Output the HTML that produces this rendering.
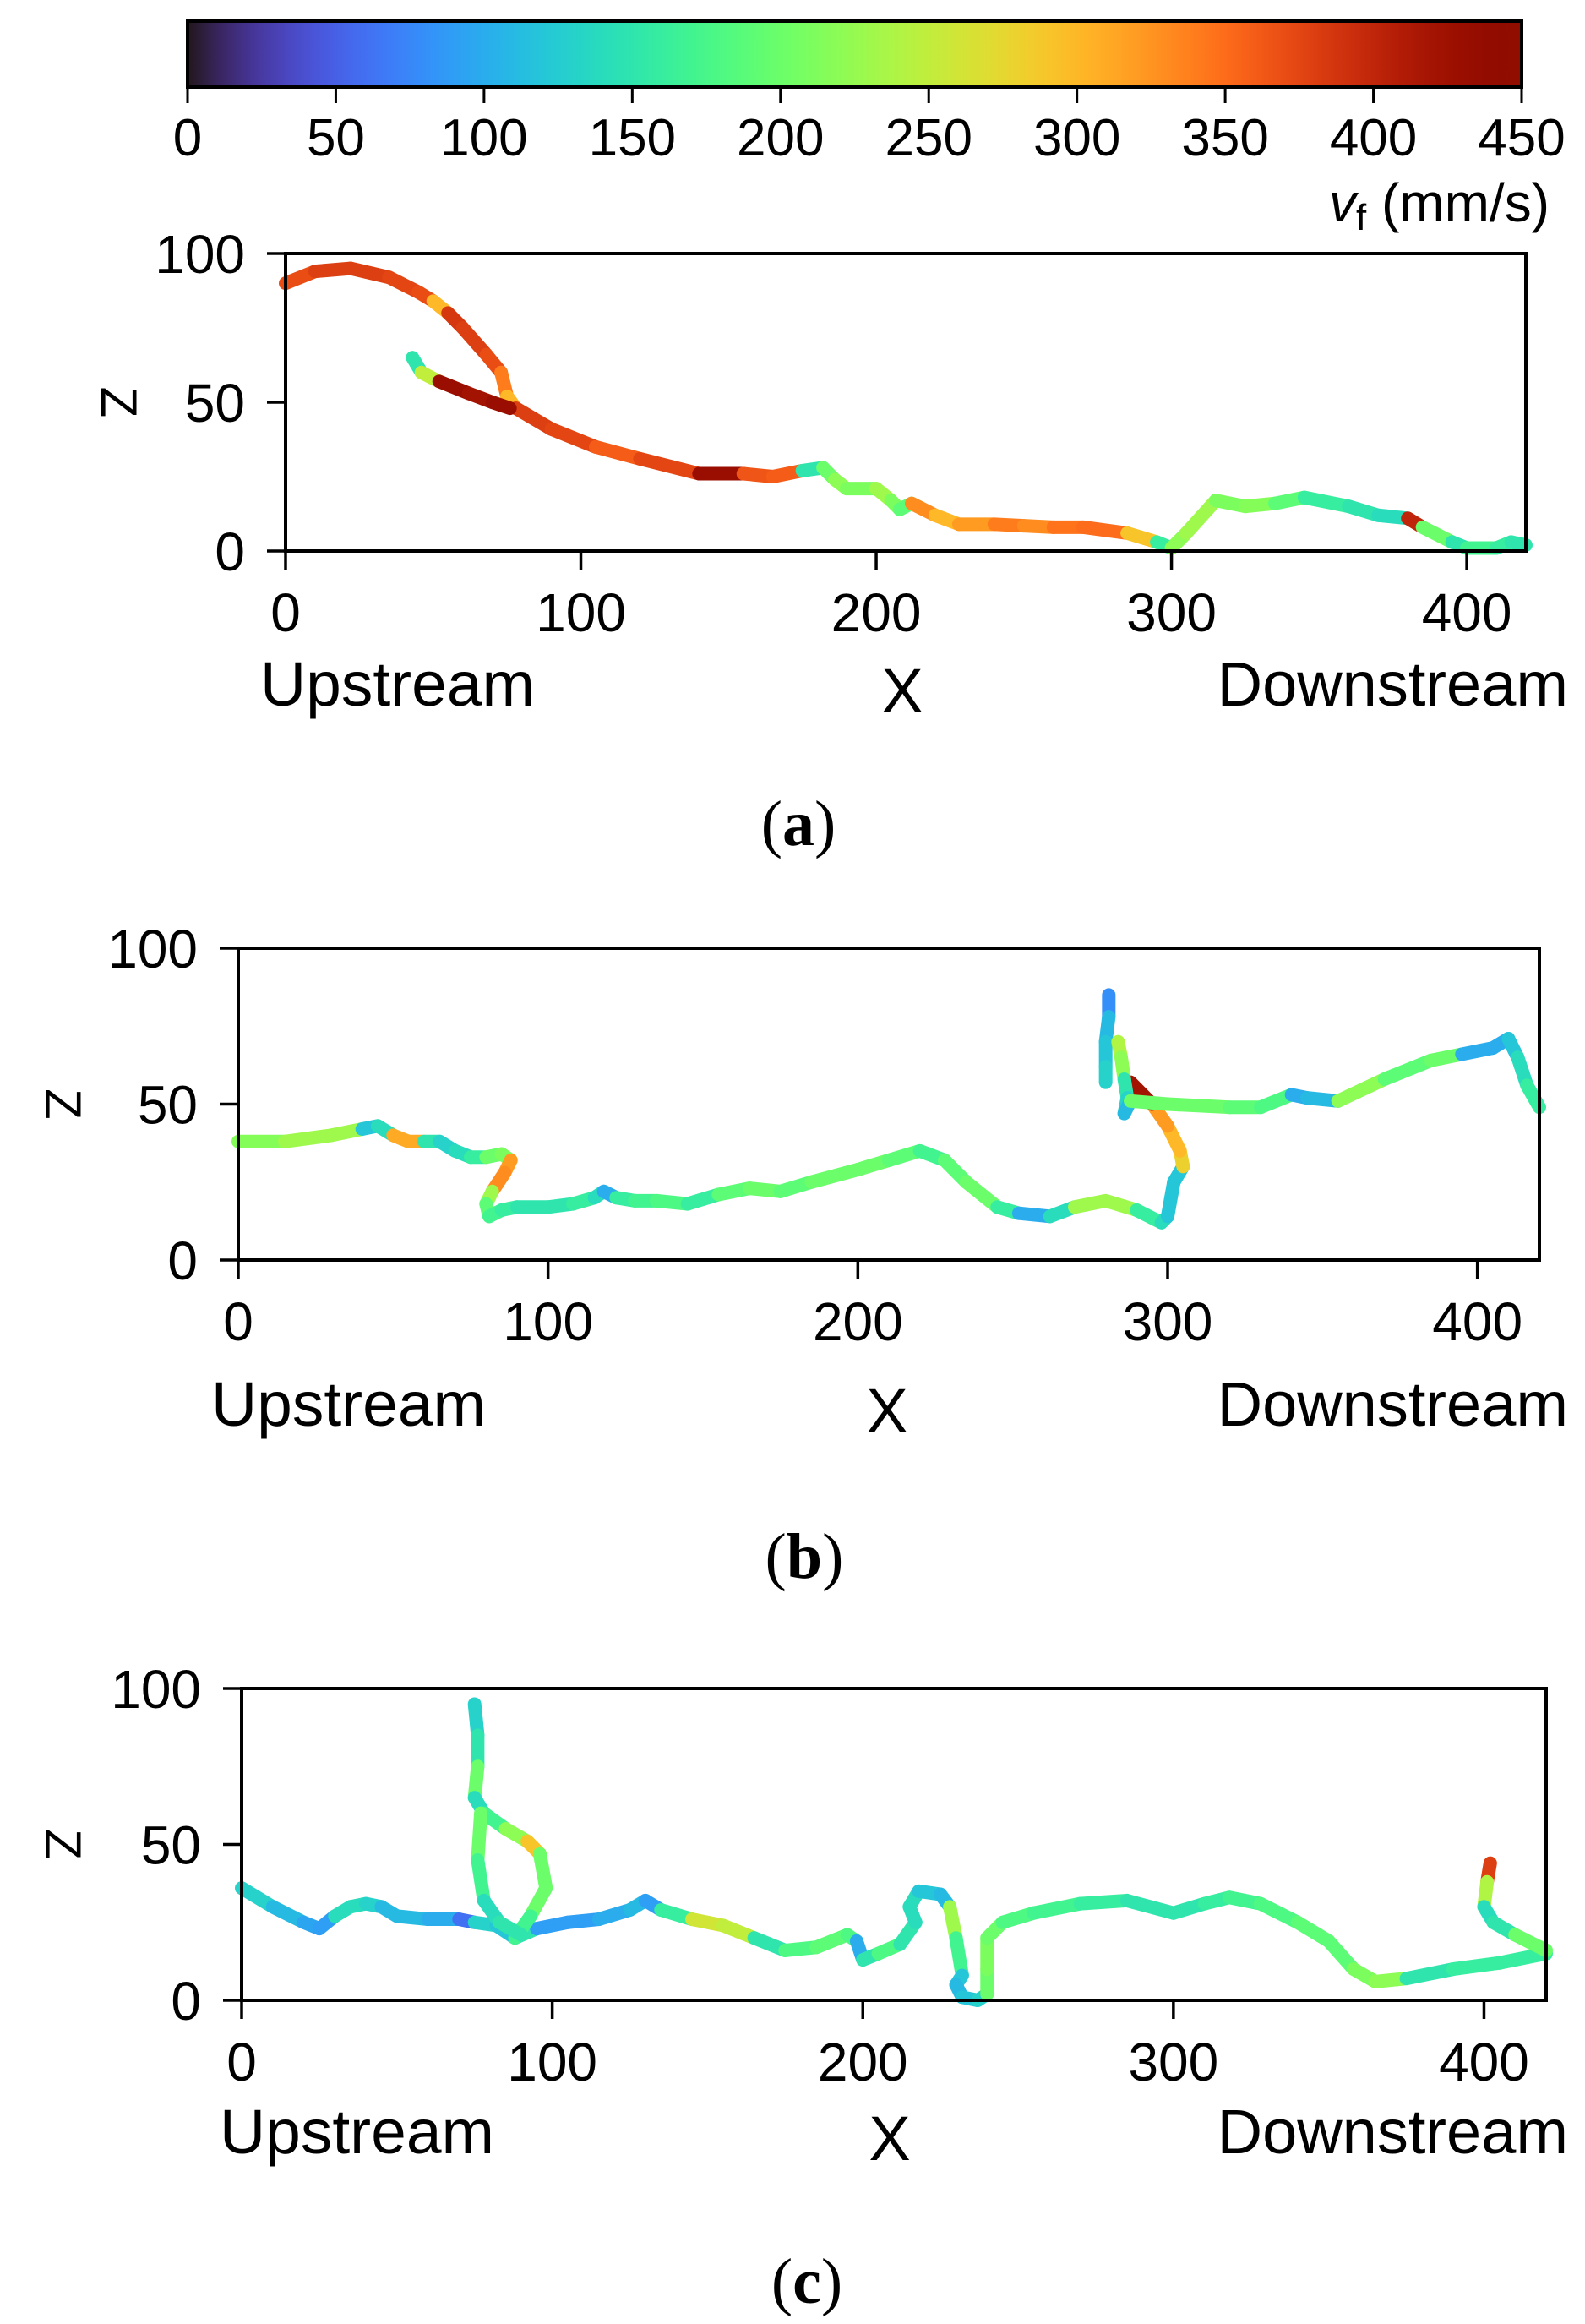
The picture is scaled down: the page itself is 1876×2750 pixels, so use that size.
<!DOCTYPE html>
<html><head><meta charset="utf-8"><style>
html,body{margin:0;padding:0;background:#fff;}
svg{display:block;font-family:"Liberation Sans",sans-serif;}
</style></head><body>
<svg id="fig" width="1876" height="2750" viewBox="0 0 1876 2750" xmlns="http://www.w3.org/2000/svg">
<defs><linearGradient id="turbo" x1="0" x2="1" y1="0" y2="0"></linearGradient></defs>
<g id="cbar"></g>
<g id="pa"></g>
<g id="pb"></g>
<g id="pc"></g>
</svg>
<script>
const NS="http://www.w3.org/2000/svg";
const vMax=450;
const cbarTicks=[0,50,100,150,200,250,300,350,400,450];
const xTicks=[0,100,200,300,400];
const zTicks=[0,50,100];
// Panel (a)
const aX1=[0,10,22,35,45,50,55,60,68,73,75,78,90,105,120,140,155,165,175,182,186,190,200,205,208,212,220,228,240,250,260,270,285,295,300,305,315,325,335,345,360,370,380,385,395,400,410,415,420];
const aZ1=[90,94,95,92,87,84,80,75,66,60,52,48,41,35,31,26,26,25,27,28,24,21,21,17,14,16,12,9,9,8.5,8,8,6,3,1,6,17,15,16,18,15,12,11,8,3,1,1,3,2];
const aV1=[370,380,380,375,370,300,385,380,370,340,300,380,375,360,375,430,365,360,150,200,220,210,230,210,190,330,300,320,340,330,345,350,290,160,220,230,210,215,190,160,150,140,400,200,150,170,160,150,150];
const aX2=[43,46,52,62,70,76];
const aZ2=[65,60,57,53,50,48];
const aV2=[150,250,430,420,430,400];
// Panel (b)
const bX1=[0,15,30,40,45,50,55,60,65,70,75,80,85,88,86,82,80,81,85,90,100,108,115,118,122,128,135,145,155,165,175,185,200,210,220,228,235,245,252,262,270,280,290,298,300,302,305,304,300,295,288];
const bZ1=[38,38,40,42,43,40,38,38,38,35,33,33,34,32,28,22,18,14,16,17,17,18,20,22,20,19,19,18,21,23,22,25,29,32,35,32,25,17,15,14,17,19,16,12,14,25,30,35,43,50,57];
const bV1=[215,230,230,120,140,310,310,150,130,140,160,200,210,320,330,230,190,170,160,150,150,160,140,100,160,170,180,160,190,200,190,200,200,190,170,190,200,160,100,140,230,230,160,140,120,120,280,300,320,420,420];
const bX2=[281,281,280,280,280];
const bZ2=[85,78,70,62,57];
const bV2=[80,110,120,130,90];
const bX3=[284,285,286,287,286,288,300,320,330,340,345,355,370,385,395,405,410,413,416,420];
const bZ3=[70,65,58,52,47,51,50,49,49,53,52,51,58,64,66,68,71,65,56,49];
const bV3=[240,220,150,130,110,200,200,190,180,100,110,220,190,200,100,100,120,140,160,200];
// Panel (c)
const cX1=[0,10,20,25,30,35,40,45,50,60,70,75,82,88,95,105,115,125,130,135,145,155,165,175,185,195,198,200,205,212,217,215,218,225,228,230,232,230,232,237,240,240,240,245,255,270,285,300,310,318,328,340,350,358,365,375,390,405,420];
const cZ1=[36,30,25,23,27,30,31,30,27,26,26,25,24,20,23,25,26,29,32,29,26,24,20,16,17,21,19,13,15,18,25,30,35,34,30,20,8,5,1,0,2,10,20,25,28,31,32,28,31,33,31,25,19,10,6,7,10,12,15];
const cV1=[130,110,95,90,140,140,130,110,110,100,60,130,120,150,90,90,100,110,90,160,260,250,150,180,190,180,100,150,180,150,140,140,120,110,230,170,120,110,120,130,200,210,200,180,170,160,150,150,160,170,180,190,190,210,220,150,160,160,100];
const cX2=[75,76,76,75,78,85,92,96,98,93,88];
const cZ2=[95,85,75,65,60,55,51,47,36,27,20];
const cV2=[130,150,200,140,170,220,290,200,200,170,160];
const cX3=[77,76,78,83,90];
const cZ3=[60,45,32,25,21];
const cV3=[200,170,140,150,150];
const cX4=[402,401,400,403,410,420];
const cZ4=[44,38,30,25,21,16];
const cV4=[380,240,140,150,200,200];

function turbo(t){t=Math.max(0,Math.min(1,t));
 const r=0.13572138+t*(4.61539260+t*(-42.66032258+t*(132.13108234+t*(-152.94239396+t*59.28637943))));
 const g=0.09140261+t*(2.19418839+t*(4.84296658+t*(-14.18503333+t*(4.27729857+t*2.82956604))));
 const b=0.10667330+t*(12.64194608+t*(-60.58204836+t*(110.36276771+t*(-89.90310912+t*27.34824973))));
 const c=v=>Math.round(255*Math.max(0,Math.min(1,v)));
 return `rgb(${c(r)},${c(g)},${c(b)})`;}
function mk(tag,attrs,parent){const e=document.createElementNS(NS,tag);for(const k in attrs)e.setAttribute(k,attrs[k]);parent.appendChild(e);return e;}

// colorbar
const grad=document.getElementById('turbo');
for(let i=0;i<=40;i++){mk('stop',{offset:(i/40),'stop-color':turbo(i/40)},grad);}
const cb=document.getElementById('cbar');
const cbL=222,cbR=1801,cbT=25,cbB=103;
const cbRect=mk('rect',{x:cbL,y:cbT,width:cbR-cbL,height:cbB-cbT,fill:'url(#turbo)',stroke:'#000','stroke-width':4},cb);


const cbx=v=>cbL+(cbR-cbL)*v/vMax;
cbarTicks.forEach(v=>{
 const l=mk('line',{x1:cbx(v),x2:cbx(v),y1:cbB,y2:cbB+19,stroke:'#000','stroke-width':3},cb);
 
 
 const t=mk('text',{x:cbx(v),y:184,'font-size':62,'text-anchor':'middle'},cb);
 t.textContent=v;
 
 
});
const vt=mk('text',{x:1834,y:262,'font-size':64,'text-anchor':'end'},cb);
vt.innerHTML='<tspan font-style="italic">v</tspan><tspan font-size="44" dy="10">f</tspan><tspan dy="-10"> (mm/s)</tspan>';



function panel(gid,box,series,labels){
 const g=document.getElementById(gid);
 const {L,R,T,B}=box;
 const sx=x=>L+(R-L)*x/420, sz=z=>B-(B-T)*z/100;
 series.forEach((s,si)=>{
  const sg=mk('g',{},g);
  
  
  for(let i=0;i<s[0].length-1;i++){
   const seg=mk('line',{x1:sx(s[0][i]),y1:sz(s[1][i]),x2:sx(s[0][i+1]),y2:sz(s[1][i+1]),stroke:turbo(s[2][i]/vMax),'stroke-width':16,'stroke-linecap':'round'},sg);
   
   
  }
 });
 const fr=mk('rect',{x:L,y:T,width:R-L,height:B-T,fill:'none',stroke:'#000','stroke-width':4},g);
 
 
 xTicks.forEach(v=>{
  const l=mk('line',{x1:sx(v),x2:sx(v),y1:B,y2:B+22,stroke:'#000','stroke-width':3.5},g);
  
  
  const t=mk('text',{x:sx(v),y:B+95,'font-size':64,'text-anchor':'middle'},g);
  t.textContent=v;
  
  
 });
 zTicks.forEach(v=>{
  const l=mk('line',{x1:L-22,x2:L,y1:sz(v),y2:sz(v),stroke:'#000','stroke-width':3.5},g);
  
  
  const t=mk('text',{x:L-48,y:sz(v)+23,'font-size':64,'text-anchor':'end'},g);
  t.textContent=v;
  
  
 });
 const zl=mk('text',{x:0,y:0,'font-size':60,'text-anchor':'middle',transform:`translate(${labels.zx+20},${sz(50)}) rotate(90)`},g);
 zl.textContent='Z';
 
 
 const up=mk('text',{x:labels.upx,y:labels.by,'font-size':74,textLength:325,lengthAdjust:'spacingAndGlyphs'},g);
 up.textContent='Upstream';
 
 
 const xl=mk('text',{x:labels.xx,y:labels.by+8,'font-size':74,'text-anchor':'middle'},g);
 xl.textContent='X';
 
 
 const dn=mk('text',{x:1856,y:labels.by,'font-size':74,'text-anchor':'end'},g);
 dn.textContent='Downstream';
 
 
 const cap=mk('text',{x:labels.capx,y:labels.capy,'font-size':76,'text-anchor':'middle','font-family':'Liberation Serif, serif'},g);
 cap.innerHTML='(<tspan font-weight="bold">'+labels.cap+'</tspan>)';
 
 
}
panel('pa',{L:338,R:1806,T:300,B:652},[[aX1,aZ1,aV1],[aX2,aZ2,aV2]],{zx:100,upx:308,xx:1068,by:835,capx:945,capy:1000,cap:'a'});
panel('pb',{L:282,R:1822,T:1122,B:1491},[[bX1,bZ1,bV1],[bX2,bZ2,bV2],[bX3,bZ3,bV3]],{zx:34,upx:250,xx:1050,by:1687,capx:952,capy:1867,cap:'b'});
panel('pc',{L:286,R:1830,T:1998,B:2367},[[cX1,cZ1,cV1],[cX2,cZ2,cV2],[cX3,cZ3,cV3],[cX4,cZ4,cV4]],{zx:34,upx:260,xx:1053,by:2548,capx:955,capy:2725,cap:'c'});
</script>
</body></html>
